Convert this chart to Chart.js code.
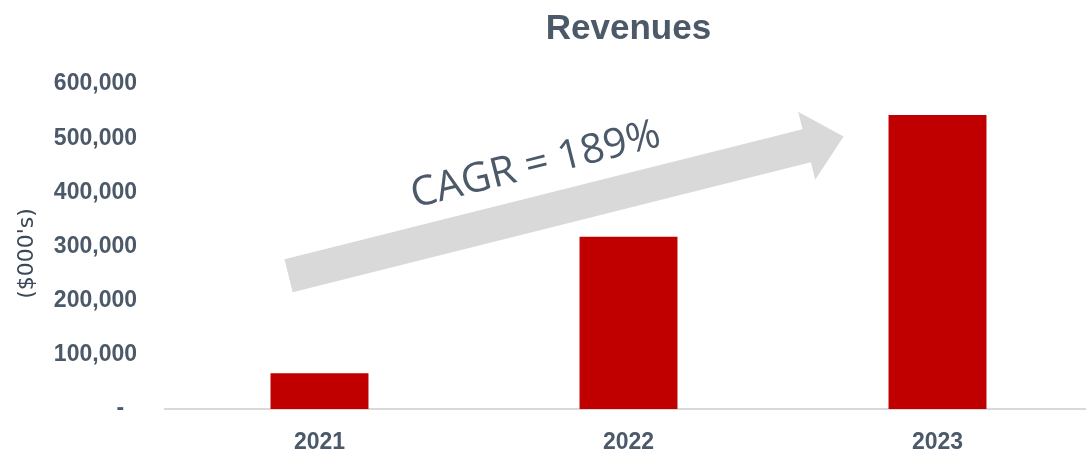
<!DOCTYPE html>
<html>
<head>
<meta charset="utf-8">
<script src="https://cdn.jsdelivr.net/npm/chart.js@4.4.1/dist/chart.umd.min.js"></script>
<style>
  html, body { margin: 0; padding: 0; background: #fff; overflow: hidden; }
</style>
</head>
<body>
<canvas id="revChart" width="1092" height="451" style="width:1092px;height:451px;display:block"></canvas>
<script>
'use strict';

// chart values
var years = ['2021', '2022', '2023'];
var revenues = [66000, 318000, 543000];
var yTicks = [0, 100000, 200000, 300000, 400000, 500000, 600000];
var cagrLabel = 'CAGR = 189%';

var slate = '#4b5969';

// grey arrow with the CAGR text, placed in data units (category index / value)
var cagrArrow = {
	id: 'cagrArrow',
	beforeDatasetsDraw: function(chart, args, opts) {
		var x = chart.scales.x, y = chart.scales.y, ctx = chart.ctx;
		var x0 = x.getPixelForValue(opts.from[0]), y0 = y.getPixelForValue(opts.from[1]);
		var x1 = x.getPixelForValue(opts.to[0]), y1 = y.getPixelForValue(opts.to[1]);
		var ang = Math.atan2(y1 - y0, x1 - x0);
		var len = Math.hypot(x1 - x0, y1 - y0);
		var sw = opts.shaftWidth / 2, hw = opts.headWidth / 2, hl = opts.headLength;

		ctx.save();
		ctx.translate(x0, y0);
		ctx.rotate(ang);
		ctx.fillStyle = opts.color;
		ctx.beginPath();
		ctx.moveTo(0, -sw);
		ctx.lineTo(len - hl, -sw);
		ctx.lineTo(len - hl, -hw);
		ctx.lineTo(len, 0);
		ctx.lineTo(len - hl, hw);
		ctx.lineTo(len - hl, sw);
		ctx.lineTo(0, sw);
		ctx.closePath();
		ctx.fill();
		ctx.restore();

		// label
		var tx = x.getPixelForValue(opts.textAt[0]), ty = y.getPixelForValue(opts.textAt[1]);
		ctx.save();
		ctx.translate(tx, ty);
		ctx.rotate(ang);
		ctx.font = opts.font;
		ctx.fillStyle = opts.textColor;
		ctx.textAlign = 'center';
		ctx.textBaseline = 'middle';
		ctx.fillText(cagrLabel, 0, 0);
		ctx.restore();
	}
};

var ctx = document.getElementById('revChart');
var chart = new Chart(ctx, {
	type: 'bar',
	data: {
		labels: years,
		datasets: [{
			label: 'Revenues',
			data: revenues,
			backgroundColor: '#c00000',
			borderWidth: 0,
			barPercentage: 1,
			categoryPercentage: 0.317
		}]
	},
	plugins: [cagrArrow],
	options: {
		responsive: false,
		animation: false,
		devicePixelRatio: 1,
		layout: { padding: { left: 0, right: 0, top: 0, bottom: 0 } },
		plugins: {
			legend: { display: false },
			tooltip: { enabled: false },
			title: {
				display: true,
				text: 'Revenues',
				fullSize: false,
				color: slate,
				font: { family: 'Liberation Sans', size: 35, weight: 'bold' },
				padding: { top: 8, bottom: 34 }
			},
			cagrArrow: {
				from: [-0.1, 246000],
				to: [1.696, 503000],
				textAt: [0.70, 450000],
				shaftWidth: 34,
				headWidth: 70,
				headLength: 38,
				color: '#d9d9d9',
				textColor: '#4b5969',
				font: '41px "Open Sans"'
			}
		},
		scales: {
			x: {
				grid: { display: false, drawTicks: false },
				border: { display: true, color: '#d9d9d9', width: 2 },
				ticks: {
					color: slate,
					padding: 20,
					font: { family: 'Liberation Sans', size: 23, weight: 'bold' }
				},
				afterFit: function(s) { s.height = 42; }
			},
			y: {
				min: 0,
				max: 600000,
				afterBuildTicks: function(s) {
					s.ticks = yTicks.map(function(v) { return { value: v }; });
				},
				grid: { display: false, drawTicks: false },
				border: { display: false },
				ticks: {
					color: slate,
					padding: 28,
					font: { family: 'Liberation Sans', size: 23, weight: 'bold' },
					callback: function(v) {
						return v === 0 ? '-  ' : v.toLocaleString('en-US');
					}
				},
				title: {
					display: true,
					text: "($000's)  ",
					color: '#3a4858',
					font: { family: 'DejaVu Sans', size: 22 },
					padding: { top: 14, bottom: 0 }
				},
				afterFit: function(s) { s.width = 165; }
			}
		}
	}
});
</script>
</body>
</html>
